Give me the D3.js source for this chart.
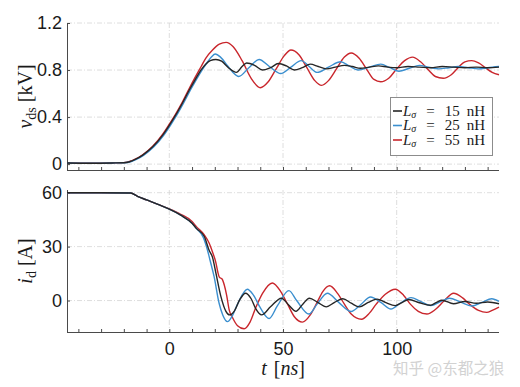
<!DOCTYPE html>
<html><head><meta charset="utf-8">
<script src="https://cdn.jsdelivr.net/npm/d3@7"></script>
<style>body{margin:0;background:#fff}</style>
</head><body>
<svg id="chart" width="520" height="387"></svg>
<script>
// ---- data ----
const seriesNames = ["15 nH", "25 nH", "55 nH"];
const seriesColors = ["#262626", "#3b8fcf", "#c9262c"];

// v_ds [kV] vs t [ns]
const tV15 = [-45,-35,-25,-20,-17.5,-15,-11.7,-7.3,-2.9,0,2.9,5.8,8.8,11.7,13.9,16,18,20.5,23,26,29.5,32,34,37.5,41,44.5,48,51.5,55,58.5,62,65.5,69,73,77,80.5,84,88,92,96,100,105,110,115,120,125,130,135,140,145];
const vds15 = [0.01,0.008,0.01,0.012,0.02,0.04,0.077,0.147,0.247,0.33,0.42,0.52,0.63,0.73,0.80,0.85,0.88,0.89,0.875,0.82,0.78,0.83,0.86,0.84,0.80,0.82,0.855,0.835,0.80,0.82,0.85,0.83,0.81,0.825,0.84,0.83,0.815,0.825,0.835,0.825,0.82,0.83,0.825,0.82,0.83,0.825,0.82,0.825,0.82,0.825];

const tV25 = [-45,-35,-25,-20,-17,-14.5,-11.2,-6.8,-2.4,0.5,3.4,6.3,9.3,12.2,14.4,16.5,18.5,20.2,22.5,25.5,28,30.5,35,39.5,44,49,53.5,58,61.5,65,70,75.4,79,83,88,93,97,101,105.5,110,114,118.5,123,127,131.5,136,140,145];
const vds25 = [0.01,0.008,0.01,0.012,0.02,0.04,0.077,0.147,0.247,0.33,0.42,0.52,0.63,0.73,0.80,0.86,0.91,0.936,0.91,0.84,0.78,0.745,0.82,0.89,0.83,0.77,0.825,0.88,0.83,0.78,0.825,0.87,0.835,0.80,0.825,0.85,0.82,0.79,0.815,0.84,0.825,0.81,0.82,0.83,0.82,0.81,0.82,0.83];

const tV55 = [-45,-35,-25,-20,-17.5,-15,-11.7,-7.3,-2.9,0,2.9,5.8,8.8,11.7,14,16,19,22,25,28,32,36,40,43.5,47,50.5,53.5,57,60.5,64,67,70,73.5,77,80,83.5,87,90,93,96.5,100,103.5,107,110.5,114,117,120.5,124,127,130,133,136,139,142,145];
const vds55 = [0.01,0.008,0.01,0.013,0.022,0.042,0.08,0.152,0.255,0.34,0.43,0.53,0.645,0.75,0.83,0.90,0.97,1.02,1.035,1.00,0.88,0.73,0.65,0.70,0.81,0.92,0.97,0.93,0.82,0.71,0.67,0.71,0.81,0.91,0.945,0.90,0.80,0.72,0.70,0.73,0.81,0.88,0.91,0.87,0.80,0.745,0.73,0.76,0.82,0.87,0.88,0.86,0.82,0.78,0.76];

// i_d [A] vs t [ns]
const tI15 = [-45,-30,-17,-14,-10,-5,0,5,10,12,15.4,17.5,19,20.5,22.7,24.9,26.5,28.5,31,33.5,36,38,40.6,44.5,49.3,52.5,55.7,58.7,61.6,65.3,69,72.7,76.3,80,83.6,87.5,91.4,95,99.4,102.5,105.3,110,114.8,117.5,119.9,125,130,135,140,145];
const id15 = [60,60,59.8,58,56,53.5,50.8,47.5,43,40,35.6,28,24,15.2,2.2,-6,-8,-6,0.5,4.1,1,-4.5,-8,-3.5,1.3,-2.5,-6,-2,1.3,-1,-3.5,-1,1,-1.5,-3.5,-1,0.8,-1,-2.8,-1,0.6,-1.2,-2.6,-1,0.2,-1.8,-0.5,-1.5,-0.8,-1.8];

const tI25 = [-45,-30,-17,-14,-10,-5,0,5,10,12,15,16.8,18,19.7,21.9,23.5,25.6,27.5,30,34.3,37,40,43.9,47.5,52.6,56,61.4,65,69.5,74.5,80,84,88.5,93,97.5,101.5,106.3,110.5,115,119.5,123.2,128,133,137.5,141.8,145];
const id25 = [60,60,59.8,58,56,53.5,50.8,47.5,43,40,35,28,22,13.3,-1.5,-8,-11.7,-9,-2,6.3,3,-4,-10,-3,5.5,0,-7.5,-2,4.1,-1,-6.1,-2.5,2,-1,-4.7,-1.5,1.6,-0.5,-2.8,-0.5,1.3,-0.8,-3,-1,1,-0.5];

const tI55 = [-45,-30,-17,-14,-10,-5,0,5,10,12,15.4,17.5,19,20.5,21.3,22,23.2,24.2,25.2,26.3,28,30,32.9,35.5,38,41,45.3,49,52,55,58.5,62,65,67.5,70.5,74,77,80,84.5,88,91,95,99.4,103,106,109.5,113.3,117,121,125,129,132,136,139.6,142,145];
const id55 = [60,60,59.8,58,56,53.5,51,48,44,41,36.5,32,27,21,16,13,12,8.5,3,-5,-10,-14,-15.7,-12,-4,4,9.8,5,-2,-9,-12,-8,-1,5,8.2,4,-2,-7.5,-10.4,-7,-2,3.5,6.3,3,-2,-6,-7.5,-5,0,4.1,1.5,-2,-5.5,-6.6,-5.5,-3.7];

const xTicks = [-40,-30,-20,-10,0,10,20,30,40,50,60,70,80,90,100,110,120,130,140];
const xLabelTicks = [0,50,100];
const vTicks = [0,0.4,0.8,1.2];
const iTicks = [0,30,60];

// ---- layout ----
const svg = d3.select("#chart");
const L = 67, R = 499;
const x = d3.scaleLinear().domain([-45,145]).range([L,R]);
const yV = d3.scaleLinear().domain([-0.05,1.2]).range([170,23]);
const yI = d3.scaleLinear().domain([-17.5,61.5]).range([332,190]);

const tickFont = "'Liberation Sans', Arial, sans-serif";
const serif = "'Liberation Serif', 'Times New Roman', serif";
const axisColor = "#4a4a4a";
const gridColor = "#d6d6d6";

function panel(y, yTicks, yFmt, showXLabels) {
  const [y0, y1] = y.range();
  const g = svg.append("g");
  g.selectAll(".gx").data(xLabelTicks).enter().append("line")
    .attr("x1", d=>x(d)).attr("x2", d=>x(d)).attr("y1", y1).attr("y2", y0)
    .attr("stroke", gridColor).attr("stroke-width", 0.8).attr("stroke-dasharray", "5,2,1,2");
  g.selectAll(".gy").data(yTicks).enter().append("line")
    .attr("x1", L).attr("x2", R).attr("y1", d=>y(d)).attr("y2", d=>y(d))
    .attr("stroke", gridColor).attr("stroke-width", 0.8).attr("stroke-dasharray", "5,2,1,2");
  const xa = d3.axisBottom(x).tickValues(xTicks).tickSize(-3).tickPadding(10)
    .tickFormat(d => showXLabels && xLabelTicks.includes(d) ? d3.format("d")(d) : "");
  const gx = g.append("g").attr("transform", `translate(0,${y0})`).call(xa);
  gx.select(".domain").attr("d", `M${L},0.5H${R}`);
  const ya = d3.axisLeft(y).tickValues(yTicks).tickSize(-3).tickPadding(5).tickFormat(yFmt);
  const gy = g.append("g").attr("transform", `translate(${L},0)`).call(ya);
  gy.select(".domain").attr("d", `M0.5,${y1}V${y0}`);
  [gx, gy].forEach(a => {
    a.selectAll(".domain, .tick line").attr("stroke", axisColor).attr("stroke-width", 1);
    a.selectAll("text").attr("font-family", tickFont).attr("font-size", 18).attr("fill", "#1a1a1a");
  });
  return g;
}

panel(yV, vTicks, d => d === 0 ? "0" : d3.format(".1f")(d), false);
panel(yI, iTicks, d3.format("d"), true);

const lineV = d3.line().x(d=>x(d[0])).y(d=>yV(d[1])).curve(d3.curveMonotoneX);
const lineI = d3.line().x(d=>x(d[0])).y(d=>yI(d[1])).curve(d3.curveMonotoneX);

const vSeries = [[tV15, vds15],[tV25, vds25],[tV55, vds55]];
const iSeries = [[tI15, id15],[tI25, id25],[tI55, id55]];
const order = [2,1,0];
order.forEach(k => {
  const [t, v] = vSeries[k];
  svg.append("path").attr("d", lineV(t.map((tt,j)=>[tt, v[j]])))
    .attr("fill","none").attr("stroke", seriesColors[k]).attr("stroke-width", 1.4);
});
order.forEach(k => {
  const [t, v] = iSeries[k];
  svg.append("path").attr("d", lineI(t.map((tt,j)=>[tt, v[j]])))
    .attr("fill","none").attr("stroke", seriesColors[k]).attr("stroke-width", 1.4);
});

// axis labels
function yLabel(cx, cy, main, sub, unit) {
  const t = svg.append("text").attr("transform", `translate(${cx},${cy}) rotate(-90)`)
    .attr("text-anchor","middle").attr("font-family", serif).attr("font-size", 20).attr("fill","#1a1a1a");
  t.append("tspan").attr("font-style","italic").text(main);
  t.append("tspan").attr("font-size", 14).attr("dy", 4).text(sub);
  t.append("tspan").attr("dy", -4).attr("dx", 5).text(unit);
}
yLabel(32, 96.5, "v", "ds", "[kV]");
yLabel(32, 261, "i", "d", "[A]");

const xl = svg.append("text").attr("x", 283).attr("y", 375).attr("text-anchor","middle")
  .attr("font-family", serif).attr("font-size", 20).attr("fill","#1a1a1a");
xl.append("tspan").attr("font-style","italic").text("t");
xl.append("tspan").attr("dx", 7).text("[");
xl.append("tspan").attr("font-style","italic").text("ns");
xl.append("tspan").text("]");

// legend
const lg = svg.append("g");
lg.append("rect").attr("x", 390.5).attr("y", 97.5).attr("width", 102).attr("height", 58)
  .attr("fill", "#fff").attr("stroke", "#8c8c8c").attr("stroke-width", 1);
seriesNames.forEach((name, k) => {
  const yy = 111 + k*14.5;
  lg.append("line").attr("x1", 393).attr("x2", 402).attr("y1", yy).attr("y2", yy)
    .attr("stroke", seriesColors[k]).attr("stroke-width", 1.6);
  const t = lg.append("text").attr("x", 403).attr("y", yy + 4.5)
    .attr("font-family", serif).attr("font-size", 15).attr("fill", "#1a1a1a");
  t.append("tspan").attr("font-style","italic").text("L");
  t.append("tspan").attr("font-style","italic").attr("font-size", 10).attr("dy", 2).text("σ");
  t.append("tspan").attr("dy", -2).attr("dx", 10).text("=");
  t.append("tspan").attr("dx", 10).text(name.split(" ")[0]);
  t.append("tspan").attr("dx", 7).text(name.split(" ")[1]);
});

// watermark
svg.append("text").attr("x", 393).attr("y", 374)
  .attr("font-family", "'Noto Sans CJK SC', sans-serif").attr("font-size", 15.5)
  .attr("fill", "#d2d2d2").text("知乎 @东都之狼");
</script>
</body></html>
